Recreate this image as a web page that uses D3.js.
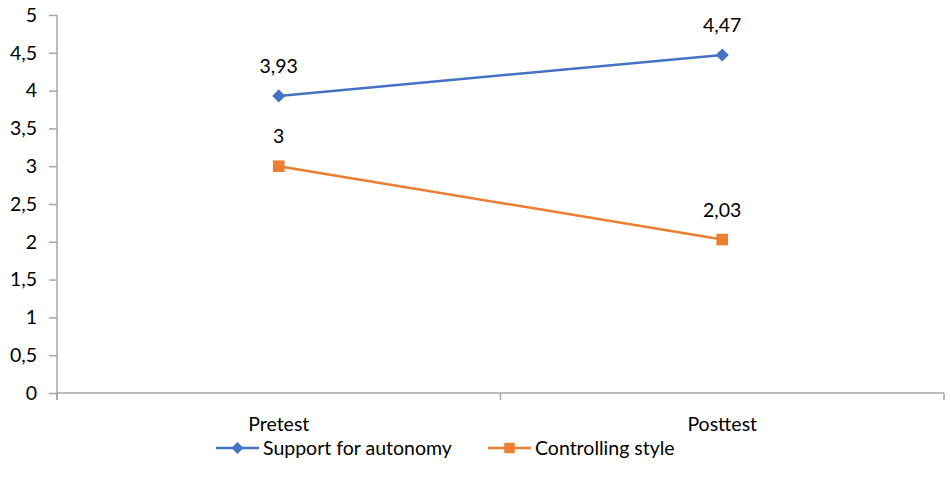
<!DOCTYPE html>
<html><head><meta charset="utf-8">
<script src="https://cdn.jsdelivr.net/npm/d3@7"></script>
<style>body{margin:0;background:#fff;} text{font-family:Lato,"Open Sans",sans-serif;fill:#000;}</style>
</head><body><svg id="c" width="950" height="493"></svg>
<script>
const categories = ["Pretest", "Posttest"];
const seriesNames = ["Support for autonomy", "Controlling style"];
const autonomy = [3.93, 4.47];
const controlling = [3.00, 2.03];
const autonomyLabels = ["3,93", "4,47"];
const controllingLabels = ["3", "2,03"];
const yTicks = [0, 0.5, 1, 1.5, 2, 2.5, 3, 3.5, 4, 4.5, 5];
const colors = ["#4472C4", "#ED7D31"];

const FS = "19.5px";
const svg = d3.select("#c");
const x = d3.scaleBand().domain(categories).range([57, 944]);
const y = d3.scaleLinear().domain([0, 5]).range([393, 15]);
const fmt = v => String(v).replace(".", ",");
const axisColor = "#a6a6a6";

// y axis
const ya = svg.append("g").attr("transform", "translate(57,0)")
  .call(d3.axisLeft(y).tickValues(yTicks).tickFormat(fmt).tickSize(8).tickPadding(12));
ya.select(".domain").attr("stroke", axisColor).attr("stroke-width", 1.5).attr("d", "M0,15V400");
ya.selectAll(".tick line").attr("stroke", axisColor).attr("stroke-width", 1.5);
ya.selectAll(".tick text").style("font-size", FS).attr("fill", "#000");

// x axis
const xa = svg.append("g").attr("transform", "translate(0,393)");
xa.append("line").attr("x1", 57).attr("x2", 944).attr("stroke", axisColor).attr("stroke-width", 1.5);
const bounds = [x.range()[0], x(categories[1]), x.range()[1]];
xa.selectAll(".bt").data(bounds).join("line").attr("class","bt")
  .attr("x1", d => d).attr("x2", d => d).attr("y1", 0).attr("y2", 7)
  .attr("stroke", axisColor).attr("stroke-width", 1.5);
xa.selectAll(".ct").data(categories).join("text").attr("class","ct")
  .attr("x", d => x(d) + x.bandwidth()/2).attr("y", 38)
  .attr("text-anchor", "middle").style("font-size", FS).text(d => d);

const cx = d => x(d) + x.bandwidth()/2;
const line = d3.line().x(d => cx(d.c)).y(d => y(d.v));

const series = [
  {vals: autonomy, labels: autonomyLabels, color: colors[0], rot: 45, size: 85},
  {vals: controlling, labels: controllingLabels, color: colors[1], rot: 0, size: 135}
];
series.forEach(s => {
  const pts = categories.map((c, i) => ({c, v: s.vals[i], l: s.labels[i]}));
  svg.append("path").datum(pts).attr("d", line).attr("fill", "none")
    .attr("stroke", s.color).attr("stroke-width", 2.5);
  svg.selectAll(null).data(pts).join("path")
    .attr("transform", d => `translate(${cx(d.c)},${y(d.v)}) rotate(${s.rot})`)
    .attr("d", d3.symbol().type(d3.symbolSquare).size(s.size)).attr("fill", s.color);
  svg.selectAll(null).data(pts).join("text")
    .attr("x", d => cx(d.c)).attr("y", d => y(d.v) - 23)
    .attr("text-anchor", "middle").style("font-size", FS).text(d => d.l);
});

// legend
const legend = [
  {name: seriesNames[0], color: colors[0], rot: 45, size: 70, x0: 216},
  {name: seriesNames[1], color: colors[1], rot: 0, size: 110, x0: 488}
];
legend.forEach(l => {
  const g = svg.append("g").attr("transform", `translate(${l.x0},448)`);
  g.append("line").attr("x1", 0).attr("x2", 43).attr("stroke", l.color).attr("stroke-width", 2.5);
  g.append("path").attr("transform", `translate(21.5,0) rotate(${l.rot})`)
    .attr("d", d3.symbol().type(d3.symbolSquare).size(l.size)).attr("fill", l.color);
  g.append("text").attr("x", 47).attr("y", 7).style("font-size", FS).text(l.name);
});
</script></body></html>
